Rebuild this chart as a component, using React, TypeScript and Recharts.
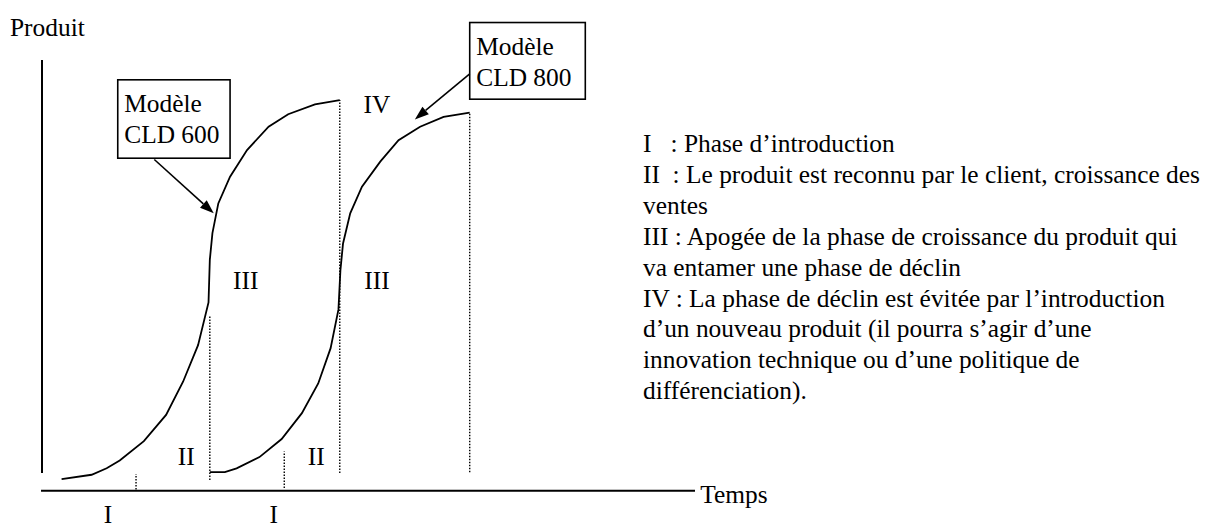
import React from "react";
import {
  ComposedChart,
  Line,
  XAxis,
  YAxis,
  ReferenceLine,
  ReferenceArea,
  ReferenceDot,
} from "recharts";

const FONT = '"Liberation Serif", "Times New Roman", serif';
const FONT_SIZE = 25.4;

// Modèle CLD 600 : temps / produit
const cld600Temps = [3, 7.6, 9.9, 11.9, 15.6, 19, 21.6, 23.9, 25.5, 25.7, 26.1, 27, 28.8, 31.4, 34.7, 37.7, 41.8, 45.6];
const cld600Produit = [2.7, 3.7, 5.2, 7, 11.5, 17.6, 25.3, 33.8, 43.7, 53.6, 59.8, 66.7, 72.9, 79.1, 84.5, 87.4, 89.7, 90.7];

// Modèle CLD 800
const cld800Temps = [25.7, 28, 29.8, 33.3, 36.7, 39.8, 42.3, 44.2, 45.4, 45.7, 46.1, 47.2, 49, 51.8, 54.6, 57.9, 61.5, 65.5];
const cld800Produit = [4.3, 4.3, 5.2, 7.8, 12, 18, 24.9, 33.1, 42.1, 51.2, 57.4, 64.4, 70.6, 76.4, 81.4, 84.5, 86.8, 87.8];

// séparations pointillées entre les phases
const sepTemps = [14.4, 25.7, 37.1, 45.6, 65.5];
const sepBas = [0.3, 2.5, 0.6, 4.1, 4.3];
const sepHaut = [3.9, 40.6, 9.1, 90.7, 87.8];

// étiquettes des phases
const phaseLabels = ["I", "I", "II", "II", "III", "III", "IV"];
const phaseTemps = [10.1, 35.5, 22.1, 42, 31.2, 51.3, 51.3];
const phaseProduit = [-7.5, -7.5, 6, 6, 46.8, 46.8, 87.7];

// encadrés des modèles et flèches
const boxLines = [["Modèle", "CLD 600"], ["Modèle", "CLD 800"]];
const boxT1 = [11.6, 65.5];
const boxT2 = [28.8, 83.2];
const boxP1 = [77.2, 90.9];
const boxP2 = [95.4, 108.7];
const arrowFromT = [17.2, 65.5];
const arrowFromP = [76.9, 96.8];
const arrowToT = [26.3, 57.1];
const arrowToP = [64.4, 86.2];

// titres des axes
const axisTitles = ["Produit", "Temps"];
const axisTitleT = [-4.9, 100.8];
const axisTitleP = [105.6, -2.86];

const legendLines = [
  "I   : Phase d’introduction",
  "II  : Le produit est reconnu par le client, croissance des",
  "ventes",
  "III : Apogée de la phase de croissance du produit qui",
  "va entamer une phase de déclin",
  "IV : La phase de déclin est évitée par l’introduction",
  "d’un nouveau produit (il pourra s’agir d’une",
  "innovation technique ou d’une politique de",
  "différenciation).",
];

const cld600 = cld600Temps.map((t, i) => ({ t, p: cld600Produit[i] }));
const cld800 = cld800Temps.map((t, i) => ({ t, p: cld800Produit[i] }));

const textStyle = { fontFamily: FONT, fontSize: FONT_SIZE, fill: "#000" };

const Arrow = (props: any) => {
  const { x1, y1, x2, y2 } = props;
  const a = Math.atan2(y2 - y1, x2 - x1);
  const len = 14;
  const hw = 5;
  const bx = x2 - len * Math.cos(a);
  const by = y2 - len * Math.sin(a);
  const px = -Math.sin(a) * hw;
  const py = Math.cos(a) * hw;
  return (
    <g>
      <line x1={x1} y1={y1} x2={bx} y2={by} stroke="#000" strokeWidth={1.6} />
      <polygon
        points={`${x2},${y2} ${bx + px},${by + py} ${bx - px},${by - py}`}
        fill="#000"
      />
    </g>
  );
};

const App: React.FC = () => {
  return (
    <div
      style={{
        position: "absolute",
        left: 0,
        top: 0,
        width: 1207,
        height: 529,
        background: "#fff",
      }}
    >
      <ComposedChart
        width={1207}
        height={529}
        margin={{ top: 60, right: 512, bottom: 38.3, left: 42 }}
      >
        <XAxis dataKey="t" type="number" domain={[0, 100]} allowDataOverflow hide />
        <YAxis type="number" domain={[0, 100]} allowDataOverflow hide />

        {/* axes */}
        <ReferenceLine
          segment={[{ x: 0, y: 4.1 }, { x: 0, y: 100 }]}
          stroke="#000"
          strokeWidth={2}
          ifOverflow="visible"
        />
        <ReferenceLine
          segment={[{ x: -0.15, y: 0 }, { x: 100, y: 0 }]}
          stroke="#000"
          strokeWidth={2}
          ifOverflow="visible"
        />

        {sepTemps.map((t, i) => (
          <ReferenceLine
            key={"sep" + i}
            segment={[{ x: t, y: sepBas[i] }, { x: t, y: sepHaut[i] }]}
            stroke="#000"
            strokeWidth={1.4}
            strokeDasharray="1.5 1.5"
            ifOverflow="visible"
          />
        ))}

        <Line
          data={cld600}
          dataKey="p"
          type="linear"
          stroke="#000"
          strokeWidth={1.8}
          dot={false}
          isAnimationActive={false}
        />
        <Line
          data={cld800}
          dataKey="p"
          type="linear"
          stroke="#000"
          strokeWidth={1.8}
          dot={false}
          isAnimationActive={false}
        />

        {boxLines.map((lines, i) => (
          <ReferenceArea
            key={"box" + i}
            x1={boxT1[i]}
            x2={boxT2[i]}
            y1={boxP1[i]}
            y2={boxP2[i]}
            ifOverflow="visible"
            shape={(p: any) => (
              <g>
                <rect
                  x={p.x}
                  y={p.y}
                  width={p.width}
                  height={p.height}
                  fill="#fff"
                  stroke="#000"
                  strokeWidth={1.6}
                />
                <text x={p.x + 6.5} y={p.y + 32} style={textStyle}>
                  {lines[0]}
                </text>
                <text x={p.x + 6.5} y={p.y + 63} style={textStyle}>
                  {lines[1]}
                </text>
              </g>
            )}
          />
        ))}

        {arrowFromT.map((t, i) => (
          <ReferenceLine
            key={"arrow" + i}
            segment={[
              { x: t, y: arrowFromP[i] },
              { x: arrowToT[i], y: arrowToP[i] },
            ]}
            ifOverflow="visible"
            shape={Arrow}
          />
        ))}

        {phaseLabels.map((lab, i) => (
          <ReferenceDot
            key={"ph" + i}
            x={phaseTemps[i]}
            y={phaseProduit[i]}
            r={0}
            ifOverflow="visible"
            shape={(p: any) => (
              <text x={p.cx} y={p.cy} textAnchor="middle" style={textStyle}>
                {lab}
              </text>
            )}
          />
        ))}

        {axisTitles.map((lab, i) => (
          <ReferenceDot
            key={"ax" + i}
            x={axisTitleT[i]}
            y={axisTitleP[i]}
            r={0}
            ifOverflow="visible"
            shape={(p: any) => (
              <text x={p.cx} y={p.cy} textAnchor="start" style={textStyle}>
                {lab}
              </text>
            )}
          />
        ))}
      </ComposedChart>

      <div
        style={{
          position: "absolute",
          left: 643,
          top: 128,
          fontFamily: FONT,
          fontSize: FONT_SIZE,
          lineHeight: "30.9px",
          color: "#000",
          whiteSpace: "pre",
        }}
      >
        {legendLines.map((l, i) => (
          <div key={i}>{l}</div>
        ))}
      </div>
    </div>
  );
};

export default App;
